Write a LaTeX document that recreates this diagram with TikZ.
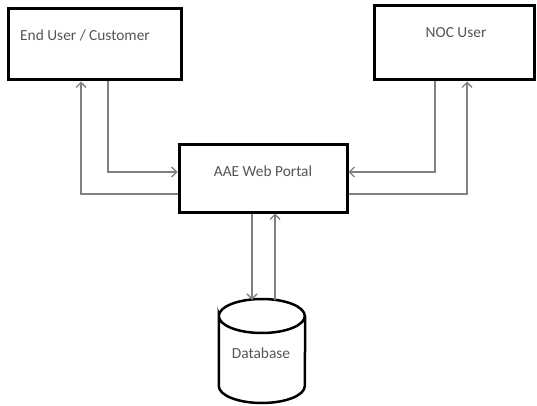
\documentclass[tikz,border=0pt]{standalone}
\usepackage{fontspec}
\setmainfont{Carlito}
\usetikzlibrary{arrows.meta}
\definecolor{conn}{HTML}{808080}
\definecolor{txt}{HTML}{555555}
\begin{document}
\begin{tikzpicture}[x=1pt,y=-1pt,
  box/.style={draw=black,line width=3pt,inner sep=0pt,fill=white},
  lbl/.style={text=txt,inner sep=0pt,font=\fontsize{15.4}{18}\selectfont},
  conline/.style={draw=conn,line width=1.5pt},
  arr/.style={conline,-{Straight Barb[length=5pt,width=10pt,line width=1.3pt]}}]
\useasboundingbox (0,0) rectangle (537,406);
\fill[white] (0,0) rectangle (537,406);
% boxes
\node[box,minimum width=173pt,minimum height=71pt] (eu) at (94.5,44.5) {};
\node[box,minimum width=160pt,minimum height=74pt] (noc) at (454,43) {};
\node[box,minimum width=168pt,minimum height=67pt] (portal) at (263,178.5) {};
\node[lbl] (eut) at (85,35) {End User / Customer};
\node[lbl] (noct) at (456,33) {NOC User};
\node[lbl] (portalt) at (263,171) {AAE Web Portal};
% database
\node[inner sep=0pt,minimum width=86pt,minimum height=104pt] (db) at (262,351) {};
\draw[line width=2.5pt] (db.west |- 0,316) arc[start angle=180,end angle=540,x radius=43,y radius=17]
  -- (db.west |- 0,386) arc[start angle=180,end angle=0,x radius=43,y radius=17]
  -- (db.east |- 0,316);
\node[lbl] (dbt) at (261,353) {Database};
% connectors
\coordinate (eua) at ([xshift=-13.5pt]eu.south);
\coordinate (eub) at ([xshift=13.5pt]eu.south);
\coordinate (noca) at ([xshift=-19pt]noc.south);
\coordinate (nocb) at ([xshift=13pt]noc.south);
\coordinate (pwa) at ([yshift=6.5pt]portal.west);
\coordinate (pwb) at ([yshift=-15.5pt]portal.west);
\coordinate (pea) at ([yshift=6.5pt]portal.east);
\coordinate (peb) at ([yshift=-15.5pt]portal.east);
\coordinate (psa) at ([xshift=-11pt]portal.south);
\coordinate (psb) at ([xshift=12pt]portal.south);
\coordinate (dba) at (psa |- db.north);
\coordinate (dbb) at (psb |- db.north);
\draw[arr] (pwb) -| (eua);
\draw[arr] (eub) |- (pwa);
\draw[arr] (noca) |- (pea);
\draw[arr] (peb) -| (nocb);
\draw[arr] (psa) -- ([yshift=-1pt]dba);
\draw[arr] ([yshift=-1pt]dbb) -- (psb);
\end{tikzpicture}
\end{document}
